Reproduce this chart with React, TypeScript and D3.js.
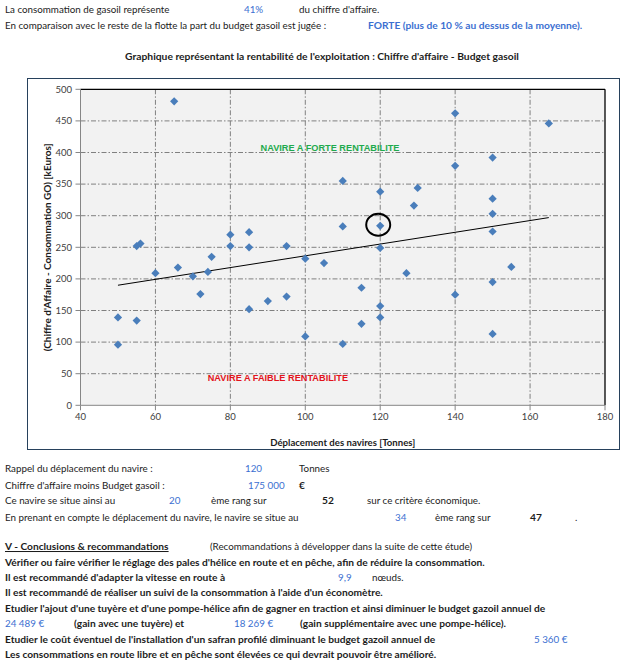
import React from "react";
import * as d3 from "d3";

// ---- data ----
const displacement = [65, 55, 56, 75, 80, 80, 85, 85, 95, 100, 105, 140, 165, 150, 140, 110, 120, 130, 129, 150, 150, 110, 120, 150, 120, 50, 50, 55, 60, 66, 70, 74, 72, 85, 90, 95, 100, 115, 120, 120, 115, 110, 127, 140, 150, 155, 150];
const netRevenue = [481, 252, 256, 235, 270, 252, 274, 250, 252, 232, 225, 462, 446, 392, 379, 355, 338, 344, 316, 327, 303, 283, 284, 275, 249, 139, 96, 134, 209, 218, 204, 211, 176, 152, 165, 172, 109, 186, 157, 139, 129, 97, 209, 175, 195, 219, 113];
const trendX = [50, 165];
const trendY = [190, 297];
const highlight = [120, 284];
const xTicks = [40, 60, 80, 100, 120, 140, 160, 180];
const yTicks = [0, 50, 100, 150, 200, 250, 300, 350, 400, 450, 500];
const zoneLabels = ["NAVIRE A FORTE RENTABILITE", "NAVIRE A FAIBLE RENTABILITE"];
const zoneX = [106.6, 92.7];
const zoneY = [408, 44];

const FONT = "Lato, 'Open Sans', sans-serif";
const ARIAL = "'Liberation Sans', Arial, sans-serif";
const BLUE = "#3b6fd1";
const INK = "#1c1c1c";

function T({ x, y, children, color = INK, bold = false, anchor = "start", size, deco }: any) {
  const fs = size ?? (bold ? 10.2 : 9.8);
  return (
    <text x={x} y={y} fill={color} fontWeight={bold ? "bold" : "normal"} textAnchor={anchor} fontSize={fs} fontFamily={FONT} textDecoration={deco}>
      {children}
    </text>
  );
}

export default function App() {
  const x = d3.scaleLinear().domain([40, 180]).range([80.5, 605]);
  const y = d3.scaleLinear().domain([0, 500]).range([405.3, 89.3]);
  const [x0, x1] = x.range();
  const [yb, yt] = y.range();
  const diamond = d3.symbol(d3.symbolSquare, 34)()!;
  const trend = d3.line<number>().x((d) => x(trendX[d])).y((d) => y(trendY[d]))([0, 1])!;
  const dash = "5,2,1.5,2";

  return (
    <svg width={625} height={662} style={{ position: "absolute", left: 0, top: 0, background: "#fff" }}>
      {/* top text */}
      <T x={5} y={13}>La consommation de gasoil représente</T>
      <T x={244} y={13} color={BLUE}>41%</T>
      <T x={299} y={13}>du chiffre d'affaire.</T>
      <T x={5} y={29}>En comparaison avec le reste de la flotte la part du budget gasoil est jugée :</T>
      <T x={368} y={29} color={BLUE} bold>FORTE (plus de 10 % au dessus de la moyenne).</T>
      <T x={322} y={60} bold anchor="middle" size={10.3}>Graphique représentant la rentabilité de l'exploitation : Chiffre d'affaire - Budget gasoil</T>

      {/* chart frame */}
      <rect x={27.5} y={78.5} width={592} height={371} fill="#fff" stroke="#27415c" strokeWidth={1} />
      <rect x={x0} y={yt} width={x1 - x0} height={yb - yt} fill="#f2f2f2" />

      {/* grid */}
      {yTicks.filter((t) => t > 0 && t < 500).map((t) => (
        <line key={"gy" + t} x1={x0} x2={x1} y1={y(t)} y2={y(t)} stroke="#808080" strokeWidth={1} strokeDasharray={dash} />
      ))}
      {xTicks.filter((t) => t > 40 && t < 180).map((t) => (
        <line key={"gx" + t} x1={x(t)} x2={x(t)} y1={yt} y2={yb} stroke="#808080" strokeWidth={1} strokeDasharray={dash} />
      ))}

      {/* plot border */}
      <line x1={x0} x2={x1} y1={yt} y2={yt} stroke="#000" strokeWidth={1.3} />
      <line x1={x1} x2={x1} y1={yt} y2={yb} stroke="#000" strokeWidth={1.3} />
      <line x1={x0} x2={x0} y1={yt} y2={yb} stroke="#868686" strokeWidth={1} />
      <line x1={x0} x2={x1} y1={yb} y2={yb} stroke="#868686" strokeWidth={1} />

      {/* ticks */}
      {yTicks.map((t) => (
        <g key={"ty" + t}>
          <line x1={x0 - 5} x2={x0} y1={y(t)} y2={y(t)} stroke="#868686" />
          <text x={72} y={y(t) + 3.3} textAnchor="end" fontSize={9.5} fontFamily={FONT} fill="#404040">{t}</text>
        </g>
      ))}
      {xTicks.map((t) => (
        <g key={"tx" + t}>
          <line x1={x(t)} x2={x(t)} y1={yb} y2={yb + 5} stroke="#868686" />
          <text x={x(t)} y={419.5} textAnchor="middle" fontSize={9.5} fontFamily={FONT} fill="#404040">{t}</text>
        </g>
      ))}

      {/* axis titles */}
      <text x={(x0 + x1) / 2} y={446} textAnchor="middle" fontSize={9.6} fontWeight="bold" fontFamily={FONT} fill={INK}>Déplacement des navires [Tonnes]</text>
      <text transform={`translate(51,${(yt + yb) / 2}) rotate(-90)`} textAnchor="middle" fontSize={10} fontWeight="bold" fontFamily={FONT} fill={INK}>(Chiffre d'Affaire - Consommation GO) [kEuros]</text>

      {/* zone labels */}
      {zoneLabels.map((l, i) => (
        <text key={l} x={x(zoneX[i])} y={y(zoneY[i]) + 3.5} textAnchor="middle" fontSize={9.2} fontWeight="bold" fontFamily={ARIAL} fill={i === 0 ? "#1faa4d" : "#e3141c"}>{l}</text>
      ))}

      {/* trend */}
      <path d={trend} stroke="#000" strokeWidth={1} fill="none" />

      {/* points */}
      {displacement.map((d, i) => (
        <path key={i} d={diamond} transform={`translate(${x(d)},${y(netRevenue[i])}) rotate(45)`} fill="#4a7ebb" />
      ))}

      {/* highlight */}
      <ellipse cx={x(highlight[0]) - 2} cy={y(highlight[1]) - 1} rx={12} ry={11} fill="none" stroke="#000" strokeWidth={2} />

      {/* bottom text */}
      <T x={5} y={472}>Rappel du déplacement du navire :</T>
      <T x={245} y={472} color={BLUE}>120</T>
      <T x={299} y={472}>Tonnes</T>
      <T x={5} y={489}>Chiffre d'affaire moins Budget gasoil :</T>
      <T x={248} y={489} color={BLUE}>175 000</T>
      <T x={299} y={489} bold>€</T>
      <T x={5} y={504}>Ce navire se situe ainsi au</T>
      <T x={169} y={504} color={BLUE}>20</T>
      <T x={211} y={504}>ème rang sur</T>
      <T x={322} y={504} bold>52</T>
      <T x={367} y={504}>sur ce critère économique.</T>
      <T x={5} y={521}>En prenant en compte le déplacement du navire, le navire se situe au</T>
      <T x={395} y={521} color={BLUE}>34</T>
      <T x={435} y={521}>ème rang sur</T>
      <T x={530} y={521} bold>47</T>
      <T x={575} y={521}>.</T>

      <T x={5} y={550} bold deco="underline">V - Conclusions &amp; recommandations</T>
      <T x={210} y={550}>(Recommandations à développer dans la suite de cette étude)</T>
      <T x={5} y={566} bold>Vérifier ou faire vérifier le réglage des pales d'hélice en route et en pêche, afin de réduire la consommation.</T>
      <T x={5} y={581} bold>Il est recommandé d'adapter la vitesse en route à</T>
      <T x={338} y={581} color={BLUE}>9,9</T>
      <T x={372} y={581}>nœuds.</T>
      <T x={5} y={596} bold>Il est recommandé de réaliser un suivi de la consommation à l'aide d'un économètre.</T>
      <T x={5} y={612} bold>Etudier l'ajout d'une tuyère et d'une pompe-hélice afin de gagner en traction et ainsi diminuer le budget gazoil annuel de</T>
      <T x={5} y={627} color={BLUE}>24 489 €</T>
      <T x={74} y={627} bold>(gain avec une tuyère) et</T>
      <T x={234} y={627} color={BLUE}>18 269 €</T>
      <T x={300} y={627} bold>(gain supplémentaire avec une pompe-hélice).</T>
      <T x={5} y={643} bold>Etudier le coût éventuel de l'installation d'un safran profilé diminuant le budget gazoil annuel de</T>
      <T x={534} y={643} color={BLUE}>5 360 €</T>
      <T x={5} y={658} bold>Les consommations en route libre et en pêche sont élevées ce qui devrait pouvoir être amélioré.</T>
    </svg>
  );
}
